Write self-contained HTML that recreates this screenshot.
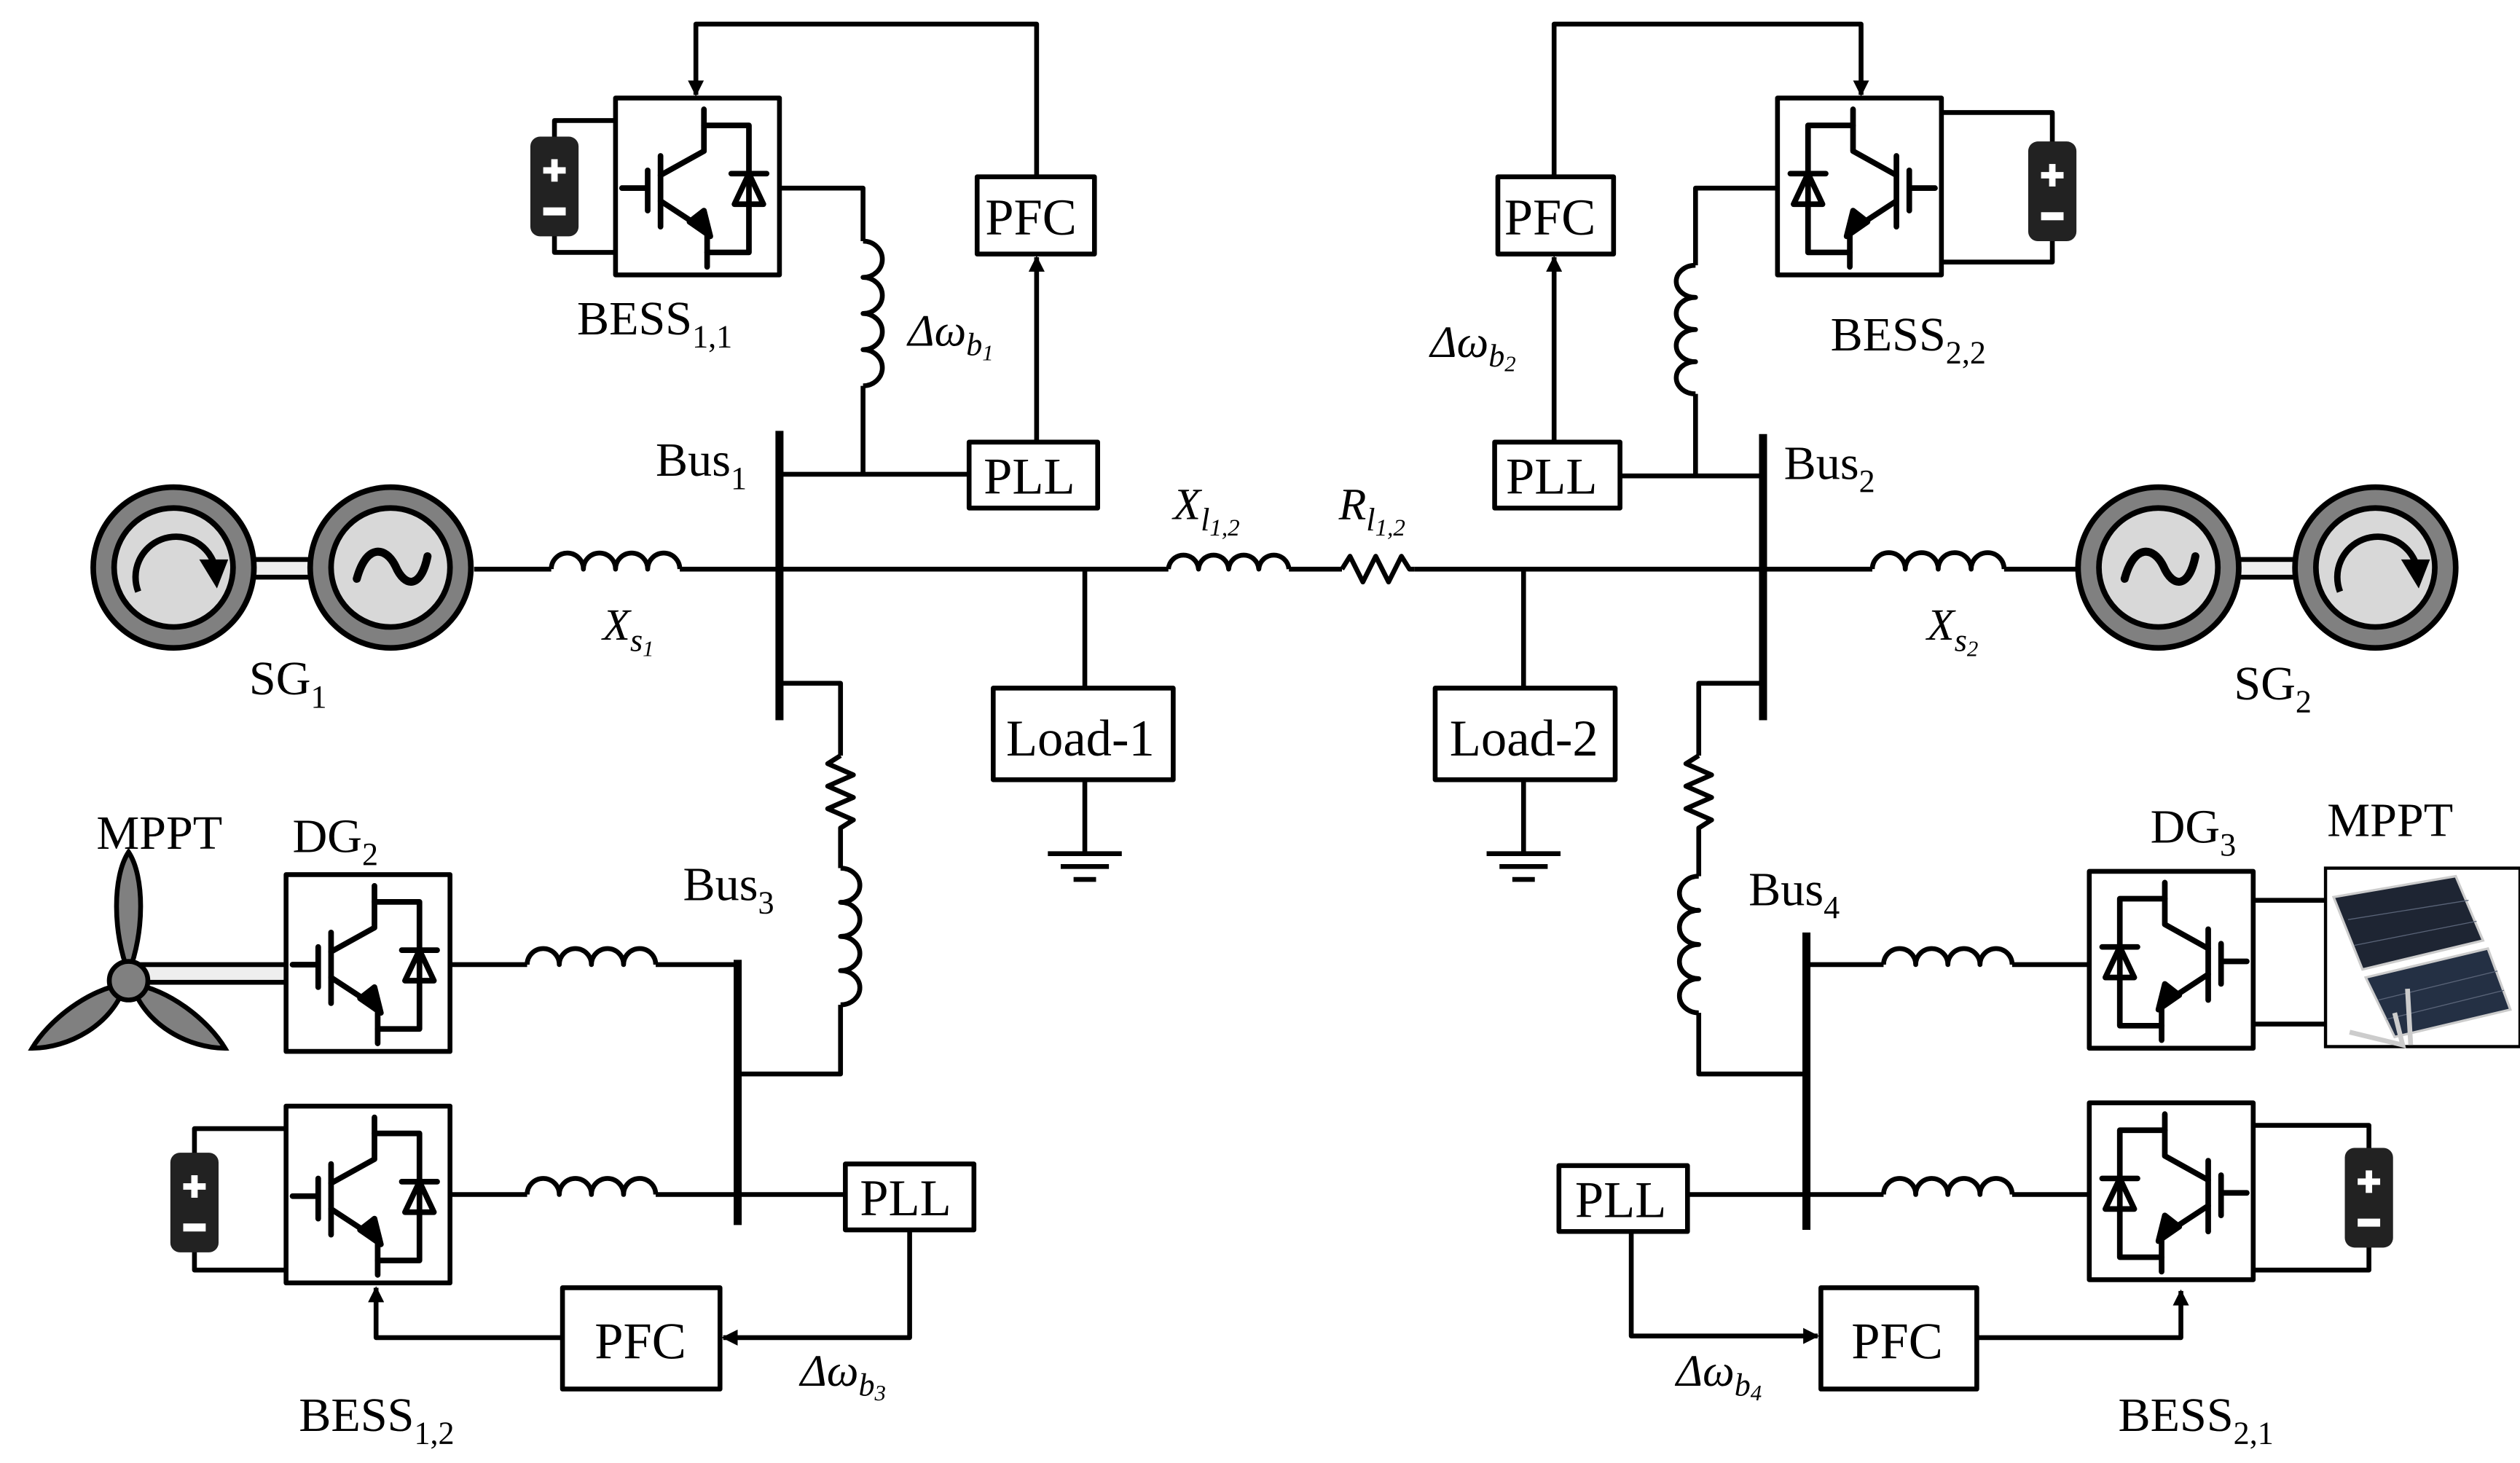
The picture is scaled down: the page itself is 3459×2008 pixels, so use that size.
<!DOCTYPE html>
<html><head><meta charset="utf-8"><style>
html,body{margin:0;padding:0;background:#fff}
svg{display:block}
text{font-family:"Liberation Serif",serif;fill:#000}
.m{font-style:italic}
</style></head><body>
<svg width="3459" height="2008" viewBox="0 0 1568 910" preserveAspectRatio="none" xmlns="http://www.w3.org/2000/svg">
<defs>
<g id="conv" fill="none" stroke="#000" stroke-width="3.5" stroke-linecap="round" stroke-linejoin="round">
<rect x="0" y="0" width="102" height="110" stroke-width="3"/>
<line x1="4" y1="56" x2="19" y2="56"/>
<line x1="20" y1="45" x2="20" y2="70"/>
<line x1="28" y1="36" x2="28" y2="80"/>
<polyline points="55,7 55,33 28,48"/>
<polyline points="28,64 57,83 57,105"/>
<polygon points="46,77 59,86 55,70" fill="#000"/>
<polyline points="55,17 83,17 83,96 57,96"/>
<line x1="72" y1="47" x2="94" y2="47"/>
<polygon points="83,47 74,66 92,66"/>
</g>
<g id="bat">
<rect x="0" y="0" width="30" height="62" rx="6" fill="#222"/>
<rect x="13" y="14" width="4" height="14" fill="#fff"/>
<rect x="8" y="19" width="14" height="4" fill="#fff"/>
<rect x="8" y="44" width="14" height="5" fill="#fff"/>
</g>
<marker id="ar" markerWidth="10" markerHeight="10" refX="9" refY="5" orient="auto" markerUnits="userSpaceOnUse"><path d="M0,0 L10,5 L0,10 z" fill="#000"/></marker>
</defs>
<g fill="none" stroke="#000" stroke-width="3" stroke-linejoin="round">
<line x1="295" y1="354" x2="343" y2="354"/>
<path d="M343,354 a10,10 0 0 1 20,0 a10,10 0 0 1 20,0 a10,10 0 0 1 20,0 a10,10 0 0 1 20,0"/>
<line x1="423" y1="354" x2="727" y2="354"/>
<path d="M727,354 a9.4,9.4 0 0 1 18.75,0 a9.4,9.4 0 0 1 18.75,0 a9.4,9.4 0 0 1 18.75,0 a9.4,9.4 0 0 1 18.75,0"/>
<line x1="802" y1="354" x2="835" y2="354"/>
<polyline points="835,354 840,346 848,362 856,346 864,362 872,346 877,354 880,354"/>
<line x1="880" y1="354" x2="1165" y2="354"/>
<path d="M1165,354 a10.25,10.25 0 0 1 20.5,0 a10.25,10.25 0 0 1 20.5,0 a10.25,10.25 0 0 1 20.5,0 a10.25,10.25 0 0 1 20.5,0"/>
<line x1="1247" y1="354" x2="1295" y2="354"/>
<line x1="485" y1="268" x2="485" y2="448" stroke-width="5"/>
<line x1="1097" y1="270" x2="1097" y2="448" stroke-width="5"/>
<line x1="459" y1="597" x2="459" y2="762" stroke-width="5"/>
<line x1="1124" y1="580" x2="1124" y2="765" stroke-width="5"/>
<line x1="675" y1="354" x2="675" y2="428"/><rect x="618" y="428" width="112" height="57"/>
<line x1="675" y1="485" x2="675" y2="530"/>
<line x1="652" y1="531" x2="698" y2="531"/><line x1="660" y1="539" x2="690" y2="539"/><line x1="668" y1="547" x2="682" y2="547"/>
<line x1="948" y1="354" x2="948" y2="428"/><rect x="893" y="428" width="112" height="57"/>
<line x1="948" y1="485" x2="948" y2="530"/>
<line x1="925" y1="531" x2="971" y2="531"/><line x1="933" y1="539" x2="963" y2="539"/><line x1="941" y1="547" x2="955" y2="547"/>
<polyline points="485,117 537,117 537,150"/>
<path d="M537,150 a12,11.25 0 0 1 0,22.5 a12,11.25 0 0 1 0,22.5 a12,11.25 0 0 1 0,22.5 a12,11.25 0 0 1 0,22.5"/>
<line x1="537" y1="240" x2="537" y2="295"/>
<line x1="485" y1="295" x2="603" y2="295"/>
<rect x="603" y="275" width="80" height="41"/>
<rect x="608" y="110" width="73" height="48"/>
<line x1="645" y1="275" x2="645" y2="160" marker-end="url(#ar)"/>
<polyline points="645,110 645,15 433,15 433,59" marker-end="url(#ar)"/>
<polyline points="383,75 345,75 345,88"/><polyline points="345,145 345,157 383,157"/>
<polyline points="1106,117 1055,117 1055,165"/>
<path d="M1055,165 a12,10 0 0 0 0,20 a12,10 0 0 0 0,20 a12,10 0 0 0 0,20 a12,10 0 0 0 0,20"/>
<line x1="1055" y1="245" x2="1055" y2="296"/>
<line x1="1008" y1="296" x2="1097" y2="296"/>
<rect x="930" y="275" width="78" height="41"/>
<rect x="932" y="110" width="72" height="48"/>
<line x1="967" y1="275" x2="967" y2="160" marker-end="url(#ar)"/>
<polyline points="967,110 967,15 1158,15 1158,59" marker-end="url(#ar)"/>
<polyline points="1208,70 1277,70 1277,90"/><polyline points="1277,148 1277,163 1208,163"/>
<polyline points="485,425 523,425 523,470"/>
<polyline points="523,470 515,475 531,482 515,489 531,496 515,503 531,510 523,515 523,540"/>
<path d="M523,540 a12,10.6 0 0 1 0,21.25 a12,10.6 0 0 1 0,21.25 a12,10.6 0 0 1 0,21.25 a12,10.6 0 0 1 0,21.25"/>
<polyline points="523,625 523,668 459,668"/>
<line x1="281" y1="600" x2="328" y2="600"/>
<path d="M328,600 a10,10 0 0 1 20,0 a10,10 0 0 1 20,0 a10,10 0 0 1 20,0 a10,10 0 0 1 20,0"/>
<line x1="408" y1="600" x2="459" y2="600"/>
<line x1="281" y1="743" x2="328" y2="743"/>
<path d="M328,743 a10,10 0 0 1 20,0 a10,10 0 0 1 20,0 a10,10 0 0 1 20,0 a10,10 0 0 1 20,0"/>
<line x1="408" y1="743" x2="526" y2="743"/>
<rect x="526" y="724" width="80" height="41"/>
<rect x="350" y="801" width="98" height="63"/>
<polyline points="566,765 566,832 450,832" marker-end="url(#ar)"/>
<polyline points="350,832 234,832 234,801" marker-end="url(#ar)"/>
<polyline points="178,702 121,702 121,720"/><polyline points="121,776 121,790 178,790"/>
<polyline points="1097,425 1057,425 1057,470"/>
<polyline points="1057,470 1049,475 1065,482 1049,489 1065,496 1049,503 1065,510 1057,515 1057,545"/>
<path d="M1057,545 a12,10.6 0 0 0 0,21.25 a12,10.6 0 0 0 0,21.25 a12,10.6 0 0 0 0,21.25 a12,10.6 0 0 0 0,21.25"/>
<polyline points="1057,630 1057,668 1124,668"/>
<line x1="1124" y1="600" x2="1172" y2="600"/>
<path d="M1172,600 a10,10 0 0 1 20,0 a10,10 0 0 1 20,0 a10,10 0 0 1 20,0 a10,10 0 0 1 20,0"/>
<line x1="1252" y1="600" x2="1301" y2="600"/>
<line x1="1050" y1="743" x2="1172" y2="743"/>
<path d="M1172,743 a10,10 0 0 1 20,0 a10,10 0 0 1 20,0 a10,10 0 0 1 20,0 a10,10 0 0 1 20,0"/>
<line x1="1252" y1="743" x2="1301" y2="743"/>
<rect x="970" y="725" width="80" height="41"/>
<rect x="1133" y="801" width="97" height="63"/>
<polyline points="1015,766 1015,831 1131,831" marker-end="url(#ar)"/>
<polyline points="1230,832 1357,832 1357,803" marker-end="url(#ar)"/>
<polyline points="1402,700 1474,700 1474,716"/><polyline points="1474,773 1474,790 1402,790"/>
<line x1="1402" y1="560" x2="1447" y2="560"/><line x1="1402" y1="637" x2="1447" y2="637"/>
</g>
<use href="#conv" x="383" y="61"/>
<use href="#conv" transform="translate(1208,61) scale(-1,1)"/>
<use href="#conv" x="178" y="544"/>
<use href="#conv" x="178" y="688"/>
<use href="#conv" transform="translate(1402,542) scale(-1,1)"/>
<use href="#conv" transform="translate(1402,686) scale(-1,1)"/>
<use href="#bat" x="330" y="85"/>
<use href="#bat" x="1262" y="88"/>
<use href="#bat" x="106" y="717"/>
<use href="#bat" x="1459" y="714"/>
<rect x="150" y="348" width="50" height="11" fill="#eee" stroke="#000" stroke-width="3"/>
<circle cx="108" cy="353" r="50" fill="#808080" stroke="#000" stroke-width="3.5"/>
<circle cx="108" cy="353" r="37" fill="#d8d8d8" stroke="#000" stroke-width="3.5"/>
<circle cx="243" cy="353" r="50" fill="#808080" stroke="#000" stroke-width="3.5"/>
<circle cx="243" cy="353" r="37" fill="#d8d8d8" stroke="#000" stroke-width="3.5"/>
<path d="M86,368 A25,25 0 1 1 133,350" fill="none" stroke="#000" stroke-width="4"/>
<path d="M124,348 L142,348 L135,366 z" fill="#000"/>
<path d="M222,360 C228,338 240,340 246,352 C252,366 262,366 266,346" fill="none" stroke="#000" stroke-width="5" stroke-linecap="round"/>
<rect x="1390" y="348" width="50" height="11" fill="#eee" stroke="#000" stroke-width="3"/>
<circle cx="1343" cy="353" r="50" fill="#808080" stroke="#000" stroke-width="3.5"/>
<circle cx="1343" cy="353" r="37" fill="#d8d8d8" stroke="#000" stroke-width="3.5"/>
<circle cx="1478" cy="353" r="50" fill="#808080" stroke="#000" stroke-width="3.5"/>
<circle cx="1478" cy="353" r="37" fill="#d8d8d8" stroke="#000" stroke-width="3.5"/>
<path d="M1456,368 A25,25 0 1 1 1503,350" fill="none" stroke="#000" stroke-width="4"/>
<path d="M1494,348 L1512,348 L1505,366 z" fill="#000"/>
<path d="M1322,360 C1328,338 1340,340 1346,352 C1352,366 1362,366 1366,346" fill="none" stroke="#000" stroke-width="5" stroke-linecap="round"/>
<rect x="88" y="600" width="90" height="11" fill="#eee" stroke="#000" stroke-width="3"/>
<g fill="#808080" stroke="#000" stroke-width="3">
<path d="M80,605 C70,580 70,545 80,530 C90,545 90,580 80,605 z"/>
<path d="M78,612 C55,615 30,635 20,652 C42,652 70,638 78,612 z"/>
<path d="M82,612 C105,615 130,635 140,652 C118,652 90,638 82,612 z"/>
<circle cx="80" cy="610" r="12"/>
</g>
<rect x="1447" y="540" width="121" height="111" fill="#fff" stroke="#000" stroke-width="2"/>
<path d="M1452,558 L1528,545 L1545,585 L1470,603 z" fill="#1e2533" stroke="#ccc" stroke-width="1.5"/>
<path d="M1472,608 L1548,590 L1562,628 L1490,645 z" fill="#243044" stroke="#ccc" stroke-width="1.5"/>
<g stroke="#5a6478" stroke-width="0.6">
<line x1="1461" y1="572" x2="1536" y2="560"/><line x1="1465" y1="588" x2="1541" y2="573"/>
<line x1="1480" y1="622" x2="1554" y2="604"/><line x1="1485" y1="634" x2="1558" y2="616"/>
</g>
<path d="M1462,642 L1495,650 L1490,630 M1500,650 L1498,615" fill="none" stroke="#ccc" stroke-width="3"/>
<g font-size="30">
<text x="359" y="208">BESS<tspan font-size="20" dy="8">1,1</tspan></text>
<text x="1139" y="218">BESS<tspan font-size="20" dy="8">2,2</tspan></text>
<text x="408" y="296">Bus<tspan font-size="20" dy="8">1</tspan></text>
<text x="1110" y="298">Bus<tspan font-size="20" dy="8">2</tspan></text>
<text x="425" y="560">Bus<tspan font-size="20" dy="8">3</tspan></text>
<text x="1088" y="563">Bus<tspan font-size="20" dy="8">4</tspan></text>
<text x="155" y="432">SG<tspan font-size="20" dy="8">1</tspan></text>
<text x="1390" y="435">SG<tspan font-size="20" dy="8">2</tspan></text>
<text x="60" y="528">MPPT</text>
<text x="182" y="530">DG<tspan font-size="20" dy="8">2</tspan></text>
<text x="1338" y="524">DG<tspan font-size="20" dy="8">3</tspan></text>
<text x="1448" y="520">MPPT</text>
<text x="186" y="890">BESS<tspan font-size="20" dy="8">1,2</tspan></text>
<text x="1318" y="890">BESS<tspan font-size="20" dy="8">2,1</tspan></text>
</g>
<g font-size="32">
<text x="613" y="146">PFC</text>
<text x="936" y="146">PFC</text>
<text x="612" y="307">PLL</text>
<text x="937" y="307">PLL</text>
<text x="535" y="756">PLL</text>
<text x="980" y="757">PLL</text>
<text x="370" y="845">PFC</text>
<text x="1152" y="845">PFC</text>
<text x="626" y="470">Load-1</text>
<text x="902" y="470">Load-2</text>
</g>
<g font-size="28">
<text x="375" y="398" class="m">X<tspan font-size="20" dy="7">s</tspan><tspan font-size="14" dy="3">1</tspan></text>
<text x="1199" y="398" class="m">X<tspan font-size="20" dy="7">s</tspan><tspan font-size="14" dy="3">2</tspan></text>
<text x="730" y="323" class="m">X<tspan font-size="20" dy="7">l</tspan><tspan font-size="15" dy="3">1,2</tspan></text>
<text x="833" y="323" class="m">R<tspan font-size="20" dy="7">l</tspan><tspan font-size="15" dy="3">1,2</tspan></text>
<text x="565" y="215" class="m">Δω<tspan font-size="20" dy="6">b</tspan><tspan font-size="14" dy="3">1</tspan></text>
<text x="890" y="222" class="m">Δω<tspan font-size="20" dy="6">b</tspan><tspan font-size="14" dy="3">2</tspan></text>
<text x="498" y="862" class="m">Δω<tspan font-size="20" dy="6">b</tspan><tspan font-size="14" dy="3">3</tspan></text>
<text x="1043" y="862" class="m">Δω<tspan font-size="20" dy="6">b</tspan><tspan font-size="14" dy="3">4</tspan></text>
</g>
</svg>
</body></html>
